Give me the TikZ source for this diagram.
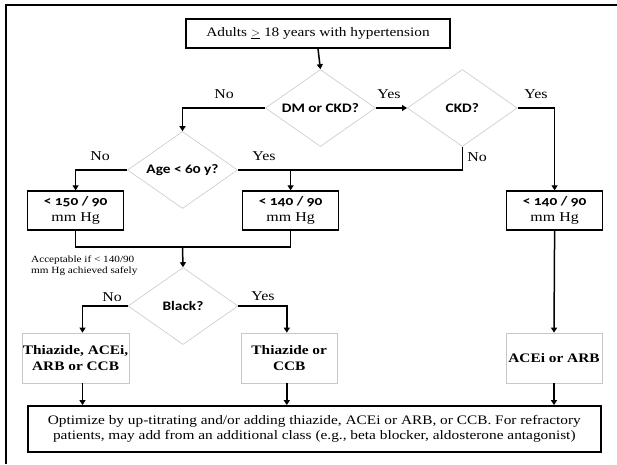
\documentclass[tikz,border=0pt]{standalone}
\usepackage{fontspec}
\setmainfont{Liberation Serif}[FakeStretch=1.18]
\newfontfamily\sansb{Carlito}[FakeStretch=1.18,Numbers=OldStyle]
\usetikzlibrary{shapes.geometric,arrows.meta,calc}
\definecolor{dgray}{RGB}{200,200,200}
\begin{document}
\begin{tikzpicture}[x=1pt,y=-1pt,
  every node/.style={font=\fontsize{13}{15}\selectfont},
  dia/.style={diamond,draw=dgray,line width=0.6pt,minimum width=110pt,minimum height=77pt,shape aspect=1.43,inner sep=0pt,font=\sansb\bfseries\fontsize{13}{15}\selectfont},
  tbox/.style={draw=black,line width=1.3pt,minimum width=96pt,minimum height=39pt,inner sep=1pt,align=center,font=\fontsize{13.5}{15.5}\selectfont},
  dbox/.style={draw=dgray,line width=0.7pt,minimum width=96pt,minimum height=50pt,inner sep=1pt,align=center,font=\bfseries\fontsize{13}{15.5}\selectfont},
  conn/.style={line width=1.5pt,black},
  arr/.style={conn,-{Triangle[length=5pt,width=6pt]}},
  lbl/.style={font=\fontsize{13.5}{15}\selectfont}
]
\useasboundingbox (0,0) rectangle (617,464);
\draw[line width=2.4pt] (6,464) -- (6,5) -- (617,5);

\node[draw=black,line width=1.4pt,minimum width=264pt,minimum height=29pt] (top) at (318,33.5) {Adults $\underline{>}$ 18 years with hypertension};
\node[dia] (d1) at (320.4,108) {DM or CKD?};
\node[dia] (d2) at (462.3,108) {CKD?};
\node[dia] (age) at (182.5,170) {Age < 60 y?};
\node[tbox] (l1) at (75.6,210.5) {{\sansb\bfseries\fontsize{13}{15}\selectfont < 150 / 90}\\mm Hg};
\node[tbox] (m1) at (290.6,210.5) {{\sansb\bfseries\fontsize{13}{15}\selectfont < 140 / 90}\\mm Hg};
\node[tbox] (r1) at (554.6,210.5) {{\sansb\bfseries\fontsize{13}{15}\selectfont < 140 / 90}\\mm Hg};
\node[align=left,anchor=west,font=\fontsize{9.5}{11}\selectfont,inner sep=0pt] (note) at (31,265.5) {Acceptable if < 140/90\\mm Hg achieved safely};
\node[dia] (blk) at (183,306) {Black?};
\node[dbox] (t1) at (75.6,358) {Thiazide, ACEi,\\ARB or CCB};
\node[dbox] (t2) at (289.2,358) {Thiazide or\\CCB};
\node[dbox] (t3) at (554,358) {ACEi or ARB};
\node[draw=black,line width=1.8pt,minimum width=573pt,minimum height=46pt,align=center,font=\fontsize{13}{15}\selectfont] (bot) at (314.3,429) {Optimize by up-titrating and/or adding thiazide, ACEi or ARB, or CCB. For refractory\\patients, may add from an additional class (e.g., beta blocker, aldosterone antagonist)};

\coordinate (j) at (182.5,247);
\coordinate (yb) at (290.6,170);
\coordinate (t1a) at (82.5,0);
\coordinate (t2a) at (286.8,0);

\draw[arr] (top.south) -- (d1.north);
\draw[arr] (d1.east) -- (d2.west);
\draw[arr] (d1.west) -| (age.north);
\draw[arr] (d2.east) -| (r1.north);
\draw[conn] (d2.south) |- (age.east);
\draw[arr] (yb) -- (m1.north);
\draw[arr] (age.west) -| (l1.north);
\draw[conn] (l1.south) |- (j) -| (m1.south);
\draw[arr] (j) -- (blk.north);
\draw[arr] (blk.west) -| (t1a |- t1.north);
\draw[arr] (blk.east) -| (t2a |- t2.north);
\draw[arr] (r1.south) -- (t3.north);
\draw[arr] (t1a |- t1.south) -- (t1a |- bot.north);
\draw[arr] (t2a |- t2.south) -- (t2a |- bot.north);
\draw[arr] (t3.south) -- (t3.south |- bot.north);

\node[lbl] (n1) at (224,94) {No};
\node[lbl] (y1) at (389,94) {Yes};
\node[lbl] (y2) at (536,94) {Yes};
\node[lbl] (n2) at (477,157) {No};
\node[lbl] (n3) at (100,156) {No};
\node[lbl] (y3) at (264,156) {Yes};
\node[lbl] (n4) at (112,297) {No};
\node[lbl] (y4) at (263,296) {Yes};
\end{tikzpicture}
\end{document}
